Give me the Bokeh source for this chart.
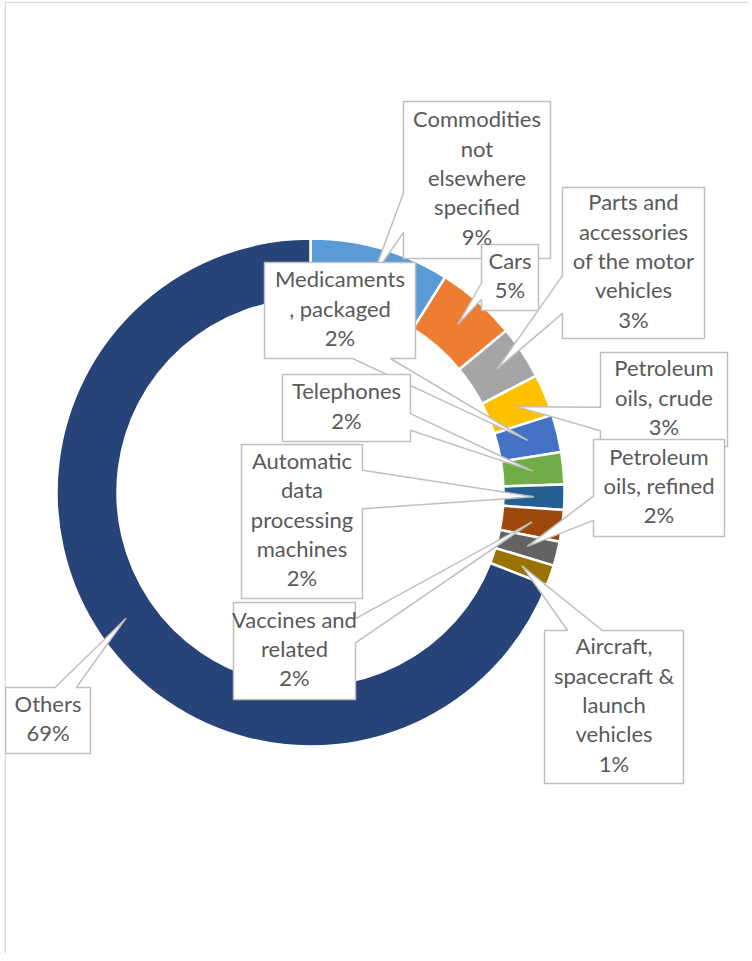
import math
from bokeh.plotting import figure
from bokeh.models import Range1d, ColumnDataSource
from bokeh.core.properties import value
from bokeh.embed import file_html
from bokeh.resources import INLINE

# ---------------- data ----------------
categories = [
    "Commodities not elsewhere specified",
    "Cars",
    "Parts and accessories of the motor vehicles",
    "Petroleum oils, crude",
    "Medicaments, packaged",
    "Telephones",
    "Automatic data processing machines",
    "Vaccines and related",
    "Petroleum oils, refined",
    "Aircraft, spacecraft & launch vehicles",
    "Others",
]
shares = [8.9, 5.1, 3.4, 2.65, 2.4, 2.05, 1.6, 2.0, 1.55, 1.3, 69.05]
colors = ["#5B9BD5", "#ED7D31", "#A5A5A5", "#FFC000", "#4472C4", "#70AD47",
          "#255E91", "#9E480E", "#636363", "#997300", "#264478"]
label_lines = [
    ["Commodities", "not", "elsewhere", "specified"],
    ["Cars"],
    ["Parts and", "accessories", "of the motor", "vehicles"],
    ["Petroleum", "oils, crude"],
    ["Medicaments", ", packaged"],
    ["Telephones"],
    ["Automatic", "data", "processing", "machines"],
    ["Vaccines and", "related"],
    ["Petroleum", "oils, refined"],
    ["Aircraft,", "spacecraft &", "launch", "vehicles"],
    ["Others"],
]

# ---------------- layout (reference pixel coords, y down) ----------------
label_boxes = [
    (403, 101, 550, 258),
    (481, 244, 538, 310),
    (562, 187, 704, 338),
    (600, 352, 727, 446),
    (264, 262, 415, 358),
    (282, 374, 410, 441),
    (241, 444, 362, 598),
    (233, 602, 355, 699),
    (593, 439, 724, 536),
    (544, 630, 683, 783),
    (5, 687, 90, 753),
]
CX, CY = 310.0, 492.0
R_OUT, R_IN = 254.0, 193.0
LINE_H = 29.3
TEXT_DY = -2.5
PAGE_H = 961


def Y(y):
    return PAGE_H - y


total = sum(shares)
p = figure(width=744, height=952, output_backend="svg", toolbar_location=None,
           x_range=Range1d(4, 748), y_range=Range1d(Y(953), Y(1)),
           min_border=0)
p.axis.visible = False
p.grid.visible = False
p.outline_line_color = None
p.background_fill_color = "white"
p.styles = {"position": "absolute", "left": "4px", "top": "1px"}

# frame border of the chart area (top and left edges visible)
p.line([4.75, 4.75], [Y(1), Y(953)], line_color="#D9D9D9", line_width=1.5)
p.line([4, 748], [Y(1.75), Y(1.75)], line_color="#D9D9D9", line_width=1.5)

# ---------------- donut ----------------
starts, ends, mids = [], [], []
cum = 0.0
for v in shares:
    a0 = cum / total * 2 * math.pi
    cum += v
    a1 = cum / total * 2 * math.pi
    starts.append(math.pi / 2 - a1)
    ends.append(math.pi / 2 - a0)
    mids.append((a0 + a1) / 2)

src = ColumnDataSource(dict(x=[CX] * len(shares), y=[Y(CY)] * len(shares),
                            start=starts, end=ends, color=colors, cat=categories))
p.annular_wedge(x="x", y="y", inner_radius=R_IN, outer_radius=R_OUT,
                start_angle="start", end_angle="end", fill_color="color",
                line_color="white", line_width=2.5, source=src)

# ---------------- callouts ----------------


def callout(box, tip):
    x0, y0, x1, y1 = box
    w, h = x1 - x0, y1 - y0
    cx, cy = (x0 + x1) / 2, (y0 + y1) / 2
    dx, dy = tip[0] - cx, tip[1] - cy
    if abs(dy) > abs(dx * h / w):
        g1, g2 = (7, 10) if dx > 0 else (2, 5)
        xa, xb = x0 + w * g1 / 12, x0 + w * g2 / 12
        if dy < 0:
            pts = [(x0, y0), (xa, y0), tip, (xb, y0), (x1, y0), (x1, y1), (x0, y1)]
        else:
            pts = [(x0, y0), (x1, y0), (x1, y1), (xb, y1), tip, (xa, y1), (x0, y1)]
    else:
        g1, g2 = (7, 10) if dy > 0 else (2, 5)
        ya, yb = y0 + h * g1 / 12, y0 + h * g2 / 12
        if dx > 0:
            pts = [(x0, y0), (x1, y0), (x1, ya), tip, (x1, yb), (x1, y1), (x0, y1)]
        else:
            pts = [(x0, y0), (x1, y0), (x1, y1), (x0, y1), (x0, yb), tip, (x0, ya)]
    return [q[0] for q in pts], [Y(q[1]) for q in pts]


xs, ys = [], []
tx, ty, tt = [], [], []
rm = (R_OUT + R_IN) / 2
for i, v in enumerate(shares):
    a = mids[i]
    tip = (CX + rm * math.sin(a), CY - rm * math.cos(a))
    px, py = callout(label_boxes[i], tip)
    xs.append(px)
    ys.append(py)
    lines = label_lines[i] + [f"{round(v / total * 100)}%"]
    x0, y0, x1, y1 = label_boxes[i]
    n = len(lines)
    for k, s in enumerate(lines):
        tx.append((x0 + x1) / 2)
        ty.append(Y((y0 + y1) / 2 + (k - (n - 1) / 2) * LINE_H + TEXT_DY))
        tt.append(s)

for i in range(len(xs)):
    p.patch(xs[i], ys[i], fill_color="white", line_color="#BFBFBF", line_width=1.5)

p.text(x=tx, y=ty, text=tt, text_font=value("Lato"), text_font_size="22px",
       text_color="#595959", text_align="center", text_baseline="middle")

open("out.html", "w").write(file_html(p, INLINE))
